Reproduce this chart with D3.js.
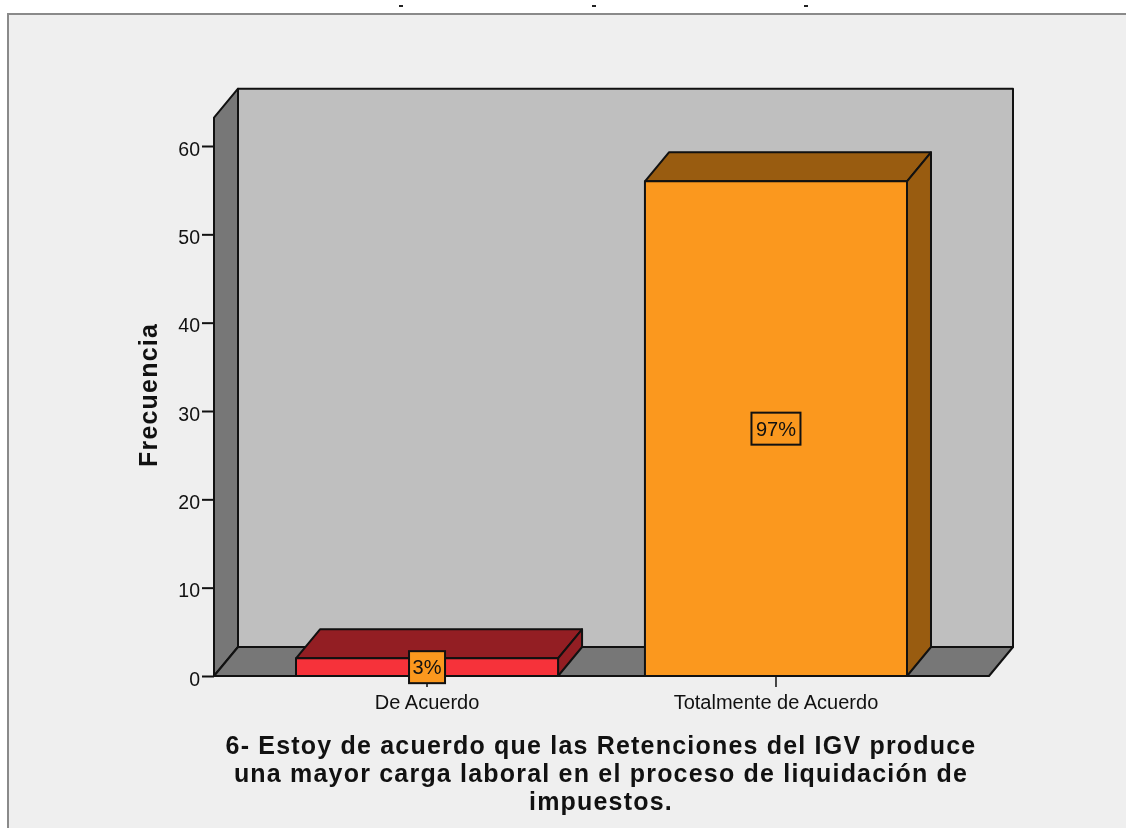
<!DOCTYPE html>
<html><head><meta charset="utf-8">
<script src="https://cdn.jsdelivr.net/npm/d3@7/dist/d3.min.js"></script>
<style>html,body{margin:0;padding:0;background:#fff;overflow:hidden}svg{display:block;filter:blur(0.45px)}text{font-family:"Liberation Sans",Arial,sans-serif;fill:#111}</style>
</head><body><svg id="c" width="1126" height="828"></svg>
<script>
const categories = ["De Acuerdo", "Totalmente de Acuerdo"];
const frequencies = [2, 56];
const percentLabels = ["3%", "97%"];
const frontColors = ["#f6323a", "#fb981e"];
const topColors = ["#931e23", "#995c10"];
const yTicks = [0, 10, 20, 30, 40, 50, 60];
const yMax = 63.2;
const yTitle = "Frecuencia";
const titleLines = ["6- Estoy de acuerdo que las Retenciones del IGV produce", "una mayor carga laboral en el proceso de liquidación de", "impuestos."];
const strayTicks = [401, 594, 806];

const svg = d3.select("#c");
const X0 = 214, X1 = 989, Y0 = 676, DX = 24, DY = -29;
const y = d3.scaleLinear().domain([0, 60]).range([Y0, 146]);
const x = d3.scaleBand().domain(categories).range([X0, X1]).paddingInner(0.249).paddingOuter(0.235);
const line = "#111";
const poly = (pts, fill, sw = 2) => svg.append("path").attr("d", d3.line()(pts) + "Z").attr("fill", fill).attr("stroke", line).attr("stroke-width", sw).attr("stroke-linejoin", "round");

svg.append("rect").attr("x", 8).attr("y", 14).attr("width", 1130).attr("height", 830).attr("fill", "#efefef").attr("stroke", "#8a8a8a").attr("stroke-width", 2);
strayTicks.forEach(t => svg.append("rect").attr("x", t - 2).attr("y", 5).attr("width", 4).attr("height", 2).attr("fill", "#222"));

const yt = y(yMax);
poly([[X0 + DX, yt + DY], [X1 + DX, yt + DY], [X1 + DX, Y0 + DY], [X0 + DX, Y0 + DY]], "#bfbfbf");
poly([[X0, yt], [X0 + DX, yt + DY], [X0 + DX, Y0 + DY], [X0, Y0]], "#777777");
poly([[X0, Y0], [X0 + DX, Y0 + DY], [X1 + DX, Y0 + DY], [X1, Y0]], "#777777");

const yAxis = d3.axisLeft(y).tickValues(yTicks).tickSize(12).tickPadding(2).tickFormat(d3.format("d"));
const gy = svg.append("g").attr("transform", `translate(${X0},0)`).call(yAxis);
gy.select(".domain").remove();
gy.selectAll("line").attr("stroke", line).attr("stroke-width", 2);
gy.selectAll("text").attr("font-size", 19.5).attr("y", 3).style("font-family", '"Liberation Sans",Arial,sans-serif').attr("fill", "#111");

const xAxis = d3.axisBottom(x).tickSize(11).tickPadding(8);
const gx = svg.append("g").attr("transform", `translate(0,${Y0})`).call(xAxis);
gx.select(".domain").remove();
gx.selectAll("line").attr("stroke", "#444").attr("stroke-width", 2);
gx.selectAll("text").attr("font-size", 20).style("font-family", '"Liberation Sans",Arial,sans-serif').attr("fill", "#111");

categories.forEach((c, i) => {
  const a = x(c), b = a + x.bandwidth(), t = y(frequencies[i]);
  poly([[a, t], [a + DX, t + DY], [b + DX, t + DY], [b, t]], topColors[i]);
  poly([[b, t], [b + DX, t + DY], [b + DX, Y0 + DY], [b, Y0]], topColors[i]);
  poly([[a, t], [b, t], [b, Y0], [a, Y0]], frontColors[i]);
  const cx = (a + b) / 2, cy = (t + Y0) / 2;
  const w = i === 0 ? 36 : 49, h = 32;
  svg.append("rect").attr("x", cx - w / 2).attr("y", cy - h / 2).attr("width", w).attr("height", h).attr("fill", "#fb981e").attr("stroke", line).attr("stroke-width", 2);
  svg.append("text").attr("x", cx).attr("y", cy + 7).attr("text-anchor", "middle").attr("font-size", 20).text(percentLabels[i]);
});

svg.append("text").attr("transform", "translate(157,395) rotate(-90)").attr("text-anchor", "middle").attr("font-size", 25).attr("font-weight", "bold").attr("letter-spacing", 1.2).text(yTitle);
svg.selectAll(".ttl").data(titleLines).join("text").attr("class", "ttl").attr("x", 601).attr("y", (d, i) => 754 + i * 28).attr("text-anchor", "middle").attr("font-size", 25).attr("font-weight", "bold").attr("letter-spacing", 1.2).text(d => d);
</script></body></html>
